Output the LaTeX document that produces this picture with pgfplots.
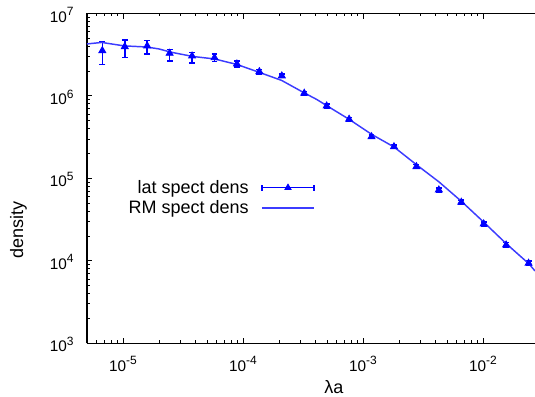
\documentclass[border=0pt]{standalone}
\usepackage{pgfplots}
\pgfplotsset{compat=1.18}
\usepackage{pgfplotstable}
\usepackage{fontspec}
\setmainfont{Liberation Sans}
\usetikzlibrary{calc}
\definecolor{ptblue}{RGB}{0,0,255}
\definecolor{lnblue}{RGB}{60,60,255}

\pgfplotstableread{
x        y        ep       em
6.72e-6  3.54e6   0.97e6   1.12e6
1.034e-5 3.96e6   0.81e6   1.02e6
1.590e-5 4.04e6   0.64e6   0.81e6
2.445e-5 3.29e6   0.39e6   0.64e6
3.760e-5 3.05e6   0.30e6   0.56e6
5.783e-5 2.91e6   0.32e6   0.31e6
8.895e-5 2.44e6   0.21e6   0.20e6
1.368e-4 1.97e6   0.12e6   0.12e6
2.104e-4 1.75e6   0.09e6   0.09e6
3.236e-4 1.077e6  0.06e6   0.06e6
4.977e-4 7.55e5   0.40e5   0.40e5
7.655e-4 5.21e5   0.28e5   0.28e5
1.177e-3 3.20e5   0.17e5   0.17e5
1.811e-3 2.42e5   0.13e5   0.13e5
2.785e-3 1.387e5  0.08e5   0.08e5
4.283e-3 7.23e4   0.45e4   0.45e4
6.588e-3 5.13e4   0.30e4   0.30e4
1.013e-2 2.80e4   0.17e4   0.17e4
1.558e-2 1.556e4  0.10e4   0.10e4
2.397e-2 9.34e3   0.60e3   0.60e3
}\latdata

\pgfplotstableread{
x        y
5.0e-6   4.27e6
6.65e-6  4.45e6
1.025e-5 4.04e6
1.576e-5 3.92e6
1.995e-5 3.71e6
2.464e-5 3.41e6
3.795e-5 3.01e6
5.765e-5 2.81e6
8.86e-5  2.41e6
1.367e-4 1.93e6
2.10e-4  1.54e6
3.242e-4 1.086e6
4.11e-4  9.06e5
4.98e-4  7.62e5
7.69e-4  5.18e5
1.182e-3 3.41e5
1.813e-3 2.40e5
2.803e-3 1.454e5
4.30e-3  9.04e4
6.645e-3 5.22e4
1.019e-2 2.92e4
1.554e-2 1.623e4
2.417e-2 9.16e3
2.711e-2 7.53e3
}\rmdata

\newcommand{\expo}[1]{10\raisebox{0.42em}{\fontsize{9}{10}\selectfont #1}}

\begin{document}
\begin{tikzpicture}
\begin{axis}[
  scale only axis, width=336.1pt, height=247.35pt,
  xmode=log, ymode=log, log basis x=10, log basis y=10,
  xmin=5e-6, xmax=2.711e-2, ymin=1e3, ymax=1e7,
  axis x line=box, axis y line=left,
  axis line style={-, line width=0.9pt, black},
  x axis line style={-}, y axis line style={-},
  tick align=inside,
  major tick length=4pt, minor tick length=2.2pt,
  tick style={black, line width=0.6pt},
  tick label style={font=\fontsize{11.5}{13}\selectfont},
  xticklabel={\expo{\pgfmathprintnumber[assume math mode=true,fixed,precision=0]{\tick}}},
  yticklabel={\expo{\pgfmathprintnumber[assume math mode=true,fixed,precision=0]{\tick}}},
  xticklabel style={yshift=-6.5pt},
  yticklabel style={xshift=-6.5pt, yshift=-1pt},
  xlabel={λa}, ylabel={density},
  label style={font=\fontsize{13.5}{16}\selectfont},
  xlabel style={at={(rel axis cs:0.5514,-0.1325)}, anchor=center},
  ylabel style={at={(rel axis cs:-0.1526,0.3435)}, anchor=center},
  legend style={draw=none, fill=none, at={(rel axis cs:0.509,0.4406)}, anchor=east,
    font=\fontsize{13.5}{16}\selectfont, inner sep=0pt, column sep=7.5pt},
  legend cell align=right,
  legend plot pos=right,
]
\addplot[ptblue, line width=1.1pt, only marks, mark=triangle*, mark size=3pt,
  mark options={line width=0.6pt},
  legend image code/.code={
    \draw[ptblue, line width=1pt] (0pt,0pt) -- (39pt,0pt);
    \draw[ptblue, line width=1pt] (0pt,-2.2pt) -- (0pt,2.2pt);
    \draw[ptblue, line width=1pt] (39pt,-2.2pt) -- (39pt,2.2pt);
    \begin{scope}[shift={(19.5pt,0pt)}, ptblue, fill=ptblue, line width=0.6pt]
      \pgfsetplotmarksize{2.7pt}\pgfuseplotmark{triangle*}
    \end{scope}},
  error bars/.cd, y dir=both, y explicit,
  error bar style={ptblue, line width=1.1pt},
  error mark options={ptblue, rotate=90, mark size=2.2pt, line width=1.1pt}]
  table[x=x, y=y, y error plus=ep, y error minus=em] {\latdata};
\addlegendentry{lat spect dens}
\addplot[lnblue, line width=1.1pt,
  legend image code/.code={\draw[lnblue, line width=1.1pt] (0pt,0pt) -- (39pt,0pt);}]
  table[x=x, y=y] {\rmdata};
\addlegendentry{RM spect dens}
\end{axis}
\pgfresetboundingbox
\path ($(current axis.south west)+(-65.2pt,-40.3pt)$) rectangle ($(current axis.north east)+(0pt,10.1pt)$);
\end{tikzpicture}
\end{document}
